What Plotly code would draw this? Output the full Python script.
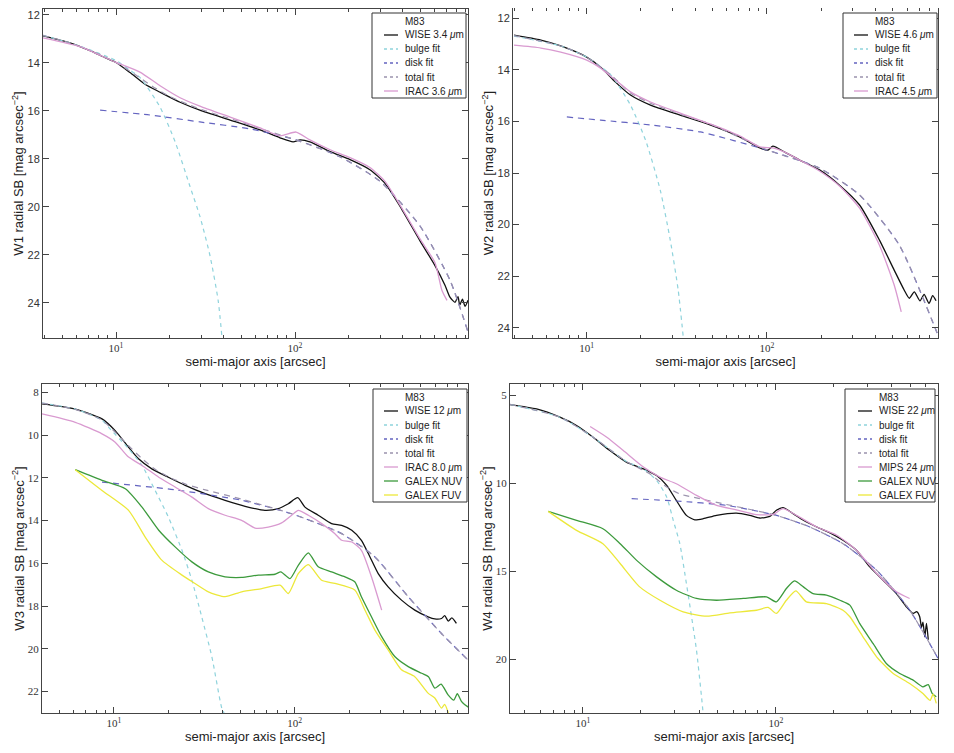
import math
import plotly.graph_objects as go

# ---------------- Panel 1 : W1 ----------------
p1_wise_r = [3.91, 5.53, 7.16, 8.69, 10.0, 11.97, 14.52, 17.62, 22.8, 29.4, 43.4, 63.7, 82.4, 97.5, 106.7, 121, 157, 203, 262, 318, 386, 499, 605, 689, 735, 783, 813, 832, 861, 891, 925]
p1_wise_m = [12.87, 13.16, 13.49, 13.78, 13.98, 14.40, 14.89, 15.22, 15.64, 15.97, 16.38, 16.79, 17.12, 17.29, 17.21, 17.29, 17.70, 18.03, 18.45, 19.02, 19.98, 21.42, 22.45, 23.28, 23.78, 23.98, 23.75, 24.10, 23.85, 24.15, 23.90]
p1_irac_r = [3.91, 6.3, 10, 13.6, 17.62, 22.8, 29.4, 43.4, 63.7, 82.4, 101.4, 121, 157, 203, 262, 318, 386, 499, 605, 662, 706]
p1_irac_m = [12.95, 13.32, 13.98, 14.38, 14.95, 15.45, 15.80, 16.26, 16.71, 17.04, 16.88, 17.21, 17.62, 17.95, 18.36, 18.94, 19.93, 21.34, 22.33, 23.49, 23.90]
p1_bulge_r = [3.91, 6.3, 10, 11.97, 13.6, 17.62, 21.4, 25.9, 29.4, 33.5, 37.2, 39.1]
p1_bulge_m = [12.85, 13.30, 13.90, 14.30, 14.60, 15.84, 17.29, 19.15, 20.39, 22.04, 23.90, 25.47]
p1_disk_r = [8.15, 15.5, 29.4, 56.1, 101.4, 178, 299, 499, 735, 925]
p1_disk_m = [15.97, 16.17, 16.46, 16.75, 17.21, 17.91, 18.94, 20.80, 23.07, 25.22]
p1_total_r = [3.91, 5.62, 7.94, 10, 12.6, 15.8, 20.0, 25.1, 31.6, 44.7, 63.1, 100, 178, 299, 499, 735, 925]
p1_total_m = [12.85, 13.18, 13.62, 13.98, 14.45, 14.95, 15.40, 15.72, 16.00, 16.35, 16.72, 17.20, 17.91, 18.94, 20.80, 23.07, 25.22]

# ---------------- Panel 2 : W2 ----------------
p2_wise_r = [3.95, 5.57, 7.18, 10, 11.94, 14.45, 17.5, 22.6, 33.0, 48.4, 71.0, 91.4, 101.4, 108, 125.6, 152, 196, 253, 327, 421, 509, 578, 617, 658, 708, 746, 794, 832, 869]
p2_wise_m = [12.66, 12.85, 13.08, 13.51, 13.90, 14.48, 14.98, 15.37, 15.76, 16.14, 16.61, 17.03, 17.11, 16.96, 17.19, 17.50, 17.88, 18.47, 19.24, 20.59, 21.76, 22.53, 22.85, 22.60, 22.95, 22.70, 23.05, 22.75, 22.95]
p2_irac_r = [3.95, 5.57, 7.18, 10, 11.94, 14.45, 17.5, 22.6, 33.0, 48.4, 71.0, 91.4, 108, 125.6, 152, 196, 253, 327, 421, 509, 557]
p2_irac_m = [13.05, 13.16, 13.32, 13.63, 13.94, 14.40, 14.86, 15.25, 15.68, 16.10, 16.57, 16.99, 17.03, 17.19, 17.50, 17.92, 18.50, 19.36, 20.79, 22.34, 23.38]
p2_bulge_r = [3.95, 7.18, 10, 13.6, 17.5, 21.2, 25.6, 29.1, 32.2, 34.4]
p2_bulge_m = [12.70, 13.08, 13.51, 14.20, 15.37, 16.72, 18.66, 20.60, 22.53, 24.39]
p2_disk_r = [7.76, 11.94, 22.6, 42.7, 100, 196, 327, 543, 881]
p2_disk_m = [15.83, 15.95, 16.14, 16.41, 17.11, 17.81, 18.85, 20.79, 24.20]
p2_total_r = [3.95, 7.18, 10, 13.6, 17.5, 22.6, 33.0, 48.4, 100, 196, 327, 543, 881]
p2_total_m = [12.68, 13.08, 13.51, 14.20, 14.90, 15.30, 15.72, 16.10, 17.10, 17.81, 18.85, 20.79, 24.20]

# ---------------- Panel 3 : W3 ----------------
p3_wise_r = [4.0, 6.11, 8.59, 10.16, 12.05, 13.68, 16.2, 20.0, 24.8, 32.0, 41.2, 53.2, 68.5, 81.3, 92.3, 104, 114, 135, 160, 182, 207, 234, 261, 290, 329, 390, 462, 547, 596, 649, 676, 708, 741, 785]
p3_wise_m = [8.54, 8.78, 9.24, 9.79, 10.57, 11.11, 11.58, 11.97, 12.35, 12.74, 13.05, 13.33, 13.52, 13.44, 13.21, 12.93, 13.37, 13.75, 14.14, 14.22, 14.45, 14.92, 15.70, 16.48, 17.10, 17.72, 18.19, 18.50, 18.60, 18.58, 18.45, 18.70, 18.55, 18.81]
p3_irac_r = [4.0, 6.11, 8.59, 10.16, 12.05, 14.3, 17.7, 21.8, 27.0, 33.3, 41.2, 50.9, 60.4, 71.4, 84.7, 96.2, 104.7, 119, 141, 167, 182, 207, 234, 266, 303]
p3_irac_m = [9.01, 9.40, 9.94, 10.33, 11.03, 11.42, 11.97, 12.43, 12.90, 13.44, 13.75, 13.99, 14.35, 14.30, 14.11, 13.75, 13.52, 13.75, 14.14, 14.61, 14.92, 15.00, 15.39, 16.63, 18.19]
p3_nuv_r = [6.11, 8.59, 11.56, 14.3, 17.7, 21.8, 27.0, 33.3, 41.2, 50.9, 63.0, 77.8, 83.9, 94.2, 104.7, 119, 135, 160, 190, 215, 234, 266, 303, 358, 425, 504, 550, 596, 646, 706, 759, 794, 837, 871, 931]
p3_nuv_m = [11.62, 12.12, 12.51, 13.37, 14.45, 15.23, 15.93, 16.40, 16.63, 16.66, 16.55, 16.51, 16.40, 16.71, 16.09, 15.51, 16.16, 16.40, 16.63, 16.86, 17.56, 18.50, 19.43, 20.36, 20.83, 21.14, 21.30, 21.84, 21.65, 22.15, 22.40, 22.10, 22.46, 22.60, 22.77]
p3_fuv_r = [6.11, 8.59, 12.05, 14.9, 18.4, 23.8, 28.1, 33.3, 41.2, 50.9, 65.8, 83.0, 92.3, 104.7, 119, 141, 167, 215, 245, 278, 329, 390, 462, 547, 596, 649, 676, 708]
p3_fuv_m = [11.62, 12.59, 13.52, 14.77, 15.85, 16.55, 16.94, 17.33, 17.56, 17.33, 17.18, 17.02, 17.41, 16.48, 16.06, 16.79, 16.94, 17.25, 18.19, 19.12, 20.05, 20.98, 21.30, 22.07, 22.30, 22.77, 22.60, 23.00]
p3_bulge_r = [4.0, 6.11, 8.59, 9.33, 12.05, 14.3, 16.9, 20.0, 23.8, 27.0, 30.6, 34.8, 39.5, 40.7]
p3_bulge_m = [8.50, 8.78, 9.30, 9.63, 10.64, 11.42, 12.59, 13.83, 15.39, 16.79, 18.50, 20.36, 22.77, 23.00]
p3_disk_r = [8.59, 21.8, 50.9, 96.2, 182, 278, 425, 649, 910]
p3_disk_m = [12.20, 12.56, 13.05, 13.68, 14.61, 15.70, 17.56, 19.28, 20.52]
p3_total_r = [4.0, 6.11, 8.59, 12.05, 14.3, 16.9, 20.0, 25.1, 31.6, 50.9, 96.2, 182, 278, 425, 649, 910]
p3_total_m = [8.50, 8.80, 9.30, 10.50, 11.10, 11.60, 11.95, 12.30, 12.55, 13.00, 13.68, 14.61, 15.70, 17.56, 19.28, 20.52]

# ---------------- Panel 4 : W4 ----------------
p4_wise_r = [4.19, 5.75, 7.6, 9.27, 11.3, 13.8, 16.8, 20.6, 24.1, 27.2, 30.5, 34.4, 38.0, 42.1, 49.3, 62.5, 73.3, 82.6, 93.1, 100.7, 109, 123, 139, 163, 191, 223, 262, 307, 360, 422, 475, 515, 537, 557, 569, 579, 592, 604, 617]
p4_wise_m = [5.51, 5.76, 6.23, 6.70, 7.37, 8.13, 8.79, 9.17, 9.55, 10.11, 10.97, 11.82, 12.07, 12.01, 11.82, 11.69, 11.82, 11.97, 11.88, 11.53, 11.38, 11.72, 12.10, 12.48, 12.82, 13.24, 13.81, 14.75, 15.51, 16.27, 17.02, 17.40, 17.30, 17.59, 18.20, 17.90, 18.73, 17.97, 18.90]
p4_mips_r = [10.9, 13.3, 16.2, 20.6, 25.1, 30.5, 38.8, 49.3, 62.5, 79.4, 96.8, 109, 128, 163, 207, 262, 333, 422, 494]
p4_mips_m = [6.76, 7.37, 8.13, 9.07, 9.64, 10.02, 10.68, 11.25, 11.50, 11.78, 11.76, 11.44, 11.82, 12.48, 12.95, 13.81, 15.13, 16.17, 16.55]
p4_nuv_r = [6.61, 9.27, 12.7, 15.6, 19.0, 24.1, 30.5, 38.8, 49.3, 67.8, 89.5, 100.7, 113.5, 125, 139, 156, 183, 215, 242, 272, 319, 374, 439, 515, 579, 617, 646, 679]
p4_nuv_m = [11.59, 12.10, 12.58, 13.43, 14.38, 15.32, 16.08, 16.55, 16.65, 16.55, 16.46, 16.74, 15.98, 15.55, 15.89, 16.27, 16.36, 16.65, 16.93, 17.97, 19.11, 20.25, 20.82, 21.20, 21.58, 21.45, 21.95, 22.14]
p4_fuv_r = [6.61, 9.27, 12.7, 15.6, 19.7, 25.1, 33.1, 43.8, 57.8, 79.4, 91.2, 100.7, 113.5, 127, 144, 183, 223, 242, 283, 333, 406, 494, 579, 631, 653, 679]
p4_fuv_m = [11.59, 12.67, 13.43, 14.56, 15.89, 16.65, 17.31, 17.56, 17.37, 17.22, 17.06, 17.40, 16.65, 16.12, 16.74, 16.84, 17.22, 17.59, 18.73, 19.87, 20.82, 21.39, 21.96, 22.35, 22.00, 22.52]
p4_bulge_r = [4.19, 7.6, 11.3, 16.8, 20.6, 24.1, 27.2, 29.4, 31.8, 34.4, 36.6, 38.8, 41.2, 42.0]
p4_bulge_m = [5.50, 6.23, 7.37, 8.75, 9.17, 9.83, 10.78, 12.10, 13.43, 15.70, 17.60, 19.49, 22.14, 23.09]
p4_disk_r = [17.9, 30.5, 55.5, 100.7, 150, 223, 333, 494, 693]
p4_disk_m = [10.87, 11.00, 11.25, 11.82, 12.48, 13.43, 14.94, 17.21, 19.96]
p4_total_r = [4.19, 7.6, 11.3, 16.8, 22.2, 27.2, 31.8, 39.8, 55.5, 100.7, 150, 223, 333, 494, 693]
p4_total_m = [5.50, 6.23, 7.37, 8.75, 9.45, 10.20, 10.60, 10.85, 11.20, 11.82, 12.48, 13.43, 14.94, 17.21, 19.96]

# ---------------- labels ----------------
galaxy = "M83"
band_names = ["W1", "W2", "W3", "W4"]
wise_labels = ["WISE 3.4 <i>μ</i>m", "WISE 4.6 <i>μ</i>m", "WISE 12 <i>μ</i>m", "WISE 22 <i>μ</i>m"]
comp_labels = ["IRAC 3.6 <i>μ</i>m", "IRAC 4.5 <i>μ</i>m", "IRAC 8.0 <i>μ</i>m", "MIPS 24 <i>μ</i>m"]
y_ticks = [[12, 14, 16, 18, 20, 22, 24], [12, 14, 16, 18, 20, 22, 24], [8, 10, 12, 14, 16, 18, 20, 22], [5, 10, 15, 20]]
x_ranges_arcsec = [(3.91, 925), (3.90, 891), (4.0, 910), (4.19, 693)]
y_ranges = [(25.47, 11.75), (24.39, 11.61), (23.0, 7.61), (23.07, 4.34)]

C_WISE = "#111111"
C_BULGE = "#8fd3dc"
C_DISK = "#6464c0"
C_TOTAL = "#9b93ad"
C_COMP = "#d99ad0"
C_NUV = "#3c9a3c"
C_FUV = "#ece83a"
D_BULGE = "4px,4px"
D_FIT = "6px,5px"

panels = [
    dict(wise=(p1_wise_r, p1_wise_m), comp=(p1_irac_r, p1_irac_m), bulge=(p1_bulge_r, p1_bulge_m),
         disk=(p1_disk_r, p1_disk_m), total=(p1_total_r, p1_total_m), nuv=None, fuv=None),
    dict(wise=(p2_wise_r, p2_wise_m), comp=(p2_irac_r, p2_irac_m), bulge=(p2_bulge_r, p2_bulge_m),
         disk=(p2_disk_r, p2_disk_m), total=(p2_total_r, p2_total_m), nuv=None, fuv=None),
    dict(wise=(p3_wise_r, p3_wise_m), comp=(p3_irac_r, p3_irac_m), bulge=(p3_bulge_r, p3_bulge_m),
         disk=(p3_disk_r, p3_disk_m), total=(p3_total_r, p3_total_m), nuv=(p3_nuv_r, p3_nuv_m), fuv=(p3_fuv_r, p3_fuv_m)),
    dict(wise=(p4_wise_r, p4_wise_m), comp=(p4_mips_r, p4_mips_m), bulge=(p4_bulge_r, p4_bulge_m),
         disk=(p4_disk_r, p4_disk_m), total=(p4_total_r, p4_total_m), nuv=(p4_nuv_r, p4_nuv_m), fuv=(p4_fuv_r, p4_fuv_m)),
]

# the page draws the figure with an 8px body margin -> figure occupies page px 8..946
OFF = 8
W, H = 938, 737
# plot-area boxes in page pixels (left, right, top, bottom)
boxes = [(43, 468, 9, 338), (513, 938, 8, 338), (42, 468, 384, 713), (510, 938, 384, 713)]
# legend boxes in page pixels (left, right, top, first-row-y, text column x)
leg_boxes = [(372, 466, 13, 21, 403), (843, 937, 13, 21, 873), (373, 467, 389, 397, 403), (845, 935, 389, 397, 877)]
ROW = 14.0


def px(xp):
    return (xp - OFF) / W


def py(yp):
    return 1 - (yp - OFF) / H


fig = go.Figure()
shapes = []
annotations = []

for i, p in enumerate(panels):
    k = i + 1
    xa = "x" if k == 1 else f"x{k}"
    ya = "y" if k == 1 else f"y{k}"

    entries = []

    def add(xy, name, color, dash=None, width=1.2):
        fig.add_trace(go.Scatter(x=xy[0], y=xy[1], mode="lines", name=name,
                                 line=dict(color=color, width=width, dash=dash, shape="spline", smoothing=0.6),
                                 xaxis=xa, yaxis=ya, showlegend=False, hoverinfo="skip"))
        entries.append((name, color, dash))

    add(p["wise"], wise_labels[i], C_WISE, None, 1.3)
    add(p["bulge"], "bulge fit", C_BULGE, D_BULGE)
    add(p["disk"], "disk fit", C_DISK, D_FIT)
    add(p["total"], "total fit", C_TOTAL, D_FIT)
    add(p["comp"], comp_labels[i], C_COMP, None, 1.3)
    if p["nuv"] is not None:
        add(p["nuv"], "GALEX NUV", C_NUV, None, 1.3)
        add(p["fuv"], "GALEX FUV", C_FUV, None, 1.3)

    # ---- axes ----
    l, r, t, b = boxes[i]
    xr = x_ranges_arcsec[i]
    minor_vals = [m * 10 ** d for d in range(0, 3) for m in range(2, 10)]
    minor_vals = [v for v in minor_vals if xr[0] <= v <= xr[1]]
    serif_y = i >= 2
    fig.update_layout(**{
        ("xaxis" if k == 1 else f"xaxis{k}"): dict(
            type="log", range=[math.log10(xr[0]), math.log10(xr[1])],
            domain=[px(l), px(r)], anchor=ya, automargin=False,
            tickvals=[10, 100], ticktext=["10<sup>1</sup>", "10<sup>2</sup>"],
            ticks="inside", ticklen=6, tickwidth=1, tickcolor="#444",
            minor=dict(tickvals=minor_vals, ticks="inside", ticklen=3, tickwidth=1, tickcolor="#444"),
            showline=True, linecolor="#444", linewidth=1, mirror="ticks",
            showgrid=False, zeroline=False, ticklabeloverflow="allow",
            tickfont=dict(family="Liberation Serif", size=11, color="#333"),
            title=dict(text="semi-major axis [arcsec]", standoff=0,
                       font=dict(family="Liberation Sans", size=13, color="#222")),
        ),
        ("yaxis" if k == 1 else f"yaxis{k}"): dict(
            range=list(y_ranges[i]), domain=[py(b), py(t)], anchor=xa, automargin=False,
            tickvals=y_ticks[i],
            ticks="inside", ticklen=6, tickwidth=1, tickcolor="#444",
            showline=True, linecolor="#444", linewidth=1, mirror="ticks",
            showgrid=False, zeroline=False, ticklabeloverflow="allow",
            tickfont=dict(family="Liberation Serif" if serif_y else "Liberation Sans", size=11, color="#333"),
            title=dict(text=f"{band_names[i]} radial SB [mag arcsec<sup>−2</sup>]", standoff=0,
                       font=dict(family="Liberation Sans", size=13, color="#222")),
        ),
    })

    # ---- legend box (drawn as layout shapes + text) ----
    lx0, lx1, ltop, row0, tx = leg_boxes[i]
    nrows = len(entries) + 1
    lbot = row0 + ROW * (nrows - 1) + 7
    shapes.append(dict(type="rect", xref="paper", yref="paper", layer="above",
                       x0=px(lx0), x1=px(lx1), y0=py(lbot), y1=py(ltop),
                       line=dict(color="#333", width=1), fillcolor="white"))
    annotations.append(dict(xref="paper", yref="paper", x=px(tx), y=py(row0), text=galaxy,
                            showarrow=False, xanchor="left", yanchor="middle",
                            font=dict(family="Liberation Sans", size=10, color="#222")))
    for j, (name, color, dash) in enumerate(entries):
        yy = row0 + ROW * (j + 1)
        shapes.append(dict(type="line", xref="paper", yref="paper", layer="above",
                           x0=px(tx - 19), x1=px(tx - 5), y0=py(yy), y1=py(yy),
                           line=dict(color=color, width=1.3, dash=("3px,3px" if dash else None))))
        annotations.append(dict(xref="paper", yref="paper", x=px(tx), y=py(yy), text=name,
                                showarrow=False, xanchor="left", yanchor="middle",
                                font=dict(family="Liberation Sans", size=10, color="#222")))

fig.update_layout(width=W, height=H, margin=dict(l=0, r=0, t=0, b=0),
                  paper_bgcolor="white", plot_bgcolor="white", showlegend=False,
                  shapes=shapes, annotations=annotations)

fig.write_html("out.html")
